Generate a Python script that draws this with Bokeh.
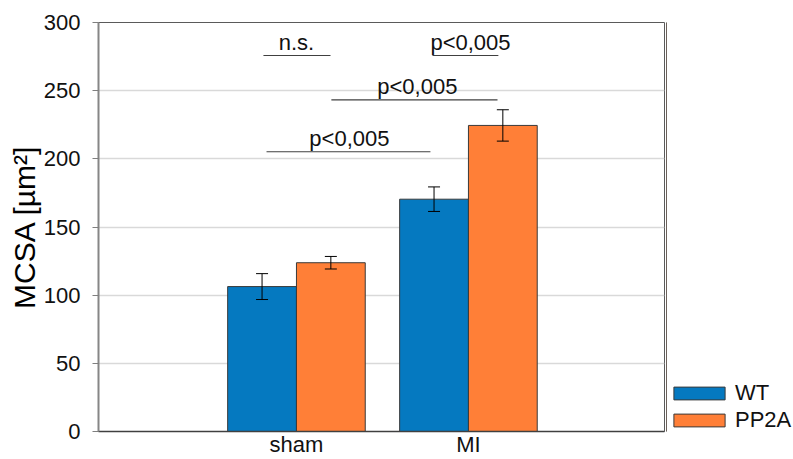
from bokeh.plotting import figure
from bokeh.layouts import row
from bokeh.models import (ColumnDataSource, Range1d, FixedTicker, Whisker, TeeHead,
                          Legend, LegendItem)
from bokeh.core.properties import value
from bokeh.embed import file_html
from bokeh.resources import INLINE

# ---- data ----
categories = ["sham", "MI"]
series = ["WT", "PP2A"]
wt_mean = [106.3, 170.4]
wt_err = [9.5, 9.0]
pp2a_mean = [123.8, 224.5]
pp2a_err = [4.6, 11.5]
y_ticks = [0, 50, 100, 150, 200, 250, 300]

# significance brackets (category units, sham=1, MI=2)
sig_labels = ["n.s.", "p<0,005", "p<0,005", "p<0,005"]
sig_x0 = [0.808, 1.791, 1.203, 0.826]
sig_x1 = [1.198, 2.174, 2.169, 1.779]
sig_y = [275.8, 275.8, 243.3, 205.2]
sig_text_x = [1.0, 2.012, 1.703, 1.308]

FONT = "Liberation Sans"
BLUE = "#0579c0"
ORANGE = "#ff7f37"
EDGE = "#3a3a3a"

xpos = [i + 1 for i in range(len(categories))]
bar_w = 0.40
off = 0.20

p = figure(width=666, height=459, output_backend="svg", toolbar_location=None,
           x_range=Range1d(-0.151, 3.14), y_range=Range1d(0, 300),
           min_border_left=98, min_border_right=2, min_border_top=22,
           min_border_bottom=25)
p.background_fill_color = "white"
p.border_fill_color = "white"
p.outline_line_color = "#5a5a5a"
p.outline_line_width = 1

src_wt = ColumnDataSource(dict(x=[v - off for v in xpos], top=wt_mean,
                               upper=[m + e for m, e in zip(wt_mean, wt_err)],
                               lower=[m - e for m, e in zip(wt_mean, wt_err)]))
src_pp = ColumnDataSource(dict(x=[v + off for v in xpos], top=pp2a_mean,
                               upper=[m + e for m, e in zip(pp2a_mean, pp2a_err)],
                               lower=[m - e for m, e in zip(pp2a_mean, pp2a_err)]))

p.vbar(x="x", top="top", width=bar_w, source=src_wt, fill_color=BLUE,
       line_color=EDGE, line_width=1)
p.vbar(x="x", top="top", width=bar_w, source=src_pp, fill_color=ORANGE,
       line_color=EDGE, line_width=1)

for s in (src_wt, src_pp):
    p.add_layout(Whisker(source=s, base="x", upper="upper", lower="lower",
                         line_color="black", line_width=1, level="annotation",
                         upper_head=TeeHead(size=12, line_color="black", line_width=1),
                         lower_head=TeeHead(size=12, line_color="black", line_width=1)))

# significance lines and labels
p.segment(x0=sig_x0, x1=sig_x1, y0=sig_y, y1=sig_y, line_color="#404040", line_width=1.2)
p.text(x=sig_text_x, y=sig_y, text=sig_labels, text_font=value(FONT),
       text_font_size="22px", text_align="center", text_baseline="alphabetic",
       y_offset=-13, text_color="#111111")

# axes
p.xaxis.ticker = FixedTicker(ticks=xpos)
p.xaxis.major_label_overrides = {x: c for x, c in zip(xpos, categories)}
p.xaxis.major_tick_out = 0
p.xaxis.major_tick_in = 0
p.xaxis.minor_tick_line_color = None
p.xaxis.major_label_standoff = 0
p.xaxis.axis_line_color = "#404040"
p.xaxis.axis_line_width = 1.3
p.xaxis.major_label_text_font = FONT
p.xaxis.major_label_text_font_size = "22px"
p.xaxis.major_label_text_color = "#111111"

p.yaxis.ticker = FixedTicker(ticks=y_ticks)
p.yaxis.minor_tick_line_color = None
p.yaxis.major_tick_out = 6
p.yaxis.major_tick_in = 0
p.yaxis.major_tick_line_color = "#7f7f7f"
p.yaxis.axis_line_color = "#868686"
p.yaxis.axis_line_width = 2
p.yaxis.major_label_standoff = 12
p.yaxis.major_label_text_font = FONT
p.yaxis.major_label_text_font_size = "22px"
p.yaxis.major_label_text_color = "#111111"
p.yaxis.axis_label = "MCSA [µm²]"
p.yaxis.axis_label_text_font = FONT
p.yaxis.axis_label_text_font_size = "30px"
p.yaxis.axis_label_text_font_style = "normal"
p.yaxis.axis_label_text_color = "#000000"
p.yaxis.axis_label_standoff = 0

p.xgrid.visible = False
p.ygrid.grid_line_color = "#d9d9d9"
p.ygrid.grid_line_width = 1.3

# ---- legend panel (separate small figure to the right) ----
lg = figure(width=127, height=459, output_backend="svg", toolbar_location=None,
            x_range=Range1d(0, 1), y_range=Range1d(0, 1),
            x_axis_location=None, y_axis_location=None,
            min_border_left=0, min_border_right=0, min_border_top=0, min_border_bottom=0)
lg.outline_line_color = None
lg.grid.visible = False
lg.background_fill_color = "white"
lg.border_fill_color = "white"
# legend proxies: one bar each, kept outside the visible range of this panel
lr_wt = lg.vbar(x=[-5], top=[wt_mean[0]], width=0.1, fill_color=BLUE,
                line_color=EDGE, line_width=1)
lr_pp = lg.vbar(x=[-5], top=[pp2a_mean[0]], width=0.1, fill_color=ORANGE,
                line_color=EDGE, line_width=1)

legend = Legend(items=[LegendItem(label=series[0], renderers=[lr_wt]),
                       LegendItem(label=series[1], renderers=[lr_pp])],
                location=(1, -2), orientation="vertical")
legend.glyph_width = 64
legend.glyph_height = 16
legend.label_standoff = 4
legend.spacing = 1
legend.padding = 0
legend.margin = 0
legend.border_line_alpha = 0
legend.background_fill_alpha = 0
legend.label_text_font = FONT
legend.label_text_font_size = "22px"
legend.label_text_color = "#111111"
lg.add_layout(legend, "center")

layout = row(p, lg, spacing=0)
open("out.html", "w").write(file_html(layout, INLINE))
